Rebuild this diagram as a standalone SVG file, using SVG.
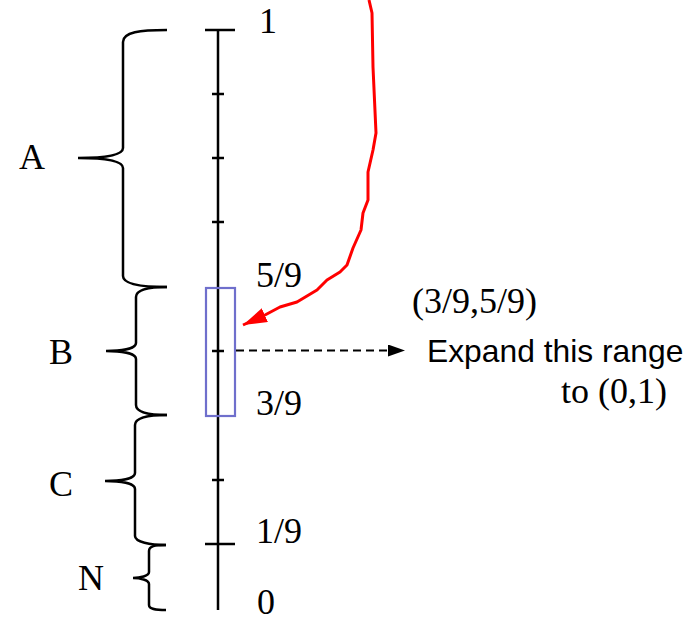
<svg xmlns="http://www.w3.org/2000/svg" width="692" height="621" viewBox="0 0 692 621">
<defs>
<style>
.ser{font-family:"Liberation Serif","Times New Roman",serif;font-size:36px;fill:#000}
.san{font-family:"Liberation Sans",Arial,sans-serif;font-size:31.8px;fill:#000}
.br{fill:none;stroke:#000;stroke-width:2.5}
.tk{stroke:#000;stroke-width:2.5}
</style>
<marker id="redHead" markerUnits="userSpaceOnUse" markerWidth="26" markerHeight="16" refX="24" refY="7.5" orient="auto">
<path d="M0,0 L24,7.5 L0,15 z" fill="#ff0000"/>
</marker>
<marker id="blackHead" markerUnits="userSpaceOnUse" markerWidth="19" markerHeight="14" refX="17" refY="6" orient="auto">
<path d="M0,0 L17,6 L0,12 z" fill="#000"/>
</marker>
</defs>
<rect width="692" height="621" fill="#fff"/>

<g id="axis">
<line class="tk" x1="218" y1="30" x2="218" y2="610"/>
<line class="tk" x1="205" y1="30" x2="235" y2="30"/>
<line class="tk" x1="212" y1="94" x2="224" y2="94"/>
<line class="tk" x1="212" y1="158" x2="224" y2="158"/>
<line class="tk" x1="212" y1="222" x2="224" y2="222"/>
<line class="tk" x1="212" y1="351" x2="224" y2="351"/>
<line class="tk" x1="212" y1="480" x2="224" y2="480"/>
<line class="tk" x1="205" y1="544" x2="235" y2="544"/>
<text class="ser" x="259" y="33">1</text>
<text class="ser" x="256" y="287">5/9</text>
<text class="ser" x="256" y="415">3/9</text>
<text class="ser" x="256" y="543">1/9</text>
<text class="ser" x="257" y="614">0</text>
</g>

<g id="range">
<rect x="206" y="288" width="29" height="128" fill="none" stroke="#6f6fcc" stroke-width="2.2"/>
</g>

<g id="braceA">
<path class="br" d="M167,30 C140,30 123,32 123,42 L123,148 C123,156 100,158 78,158 C100,158 123,160 123,168 L123,276 C123,284 140,287 167,287"/>
<text class="ser" x="19" y="169">A</text>
</g>
<g id="braceB">
<path class="br" d="M167,287 C150,287 136,289 136,297 L136,343 C136,349 120,351 106,351 C120,351 136,353 136,359 L136,405 C136,413 150,415 167,415"/>
<text class="ser" x="49" y="364">B</text>
</g>
<g id="braceC">
<path class="br" d="M167,415 C150,415 135,417 135,425 L135,473 C135,479 120,481 105,481 C120,481 135,483 135,489 L135,536 C135,542 150,545 166,545"/>
<text class="ser" x="49" y="496">C</text>
</g>
<g id="braceN">
<path class="br" d="M166,545 C155,545 149,546 149,551 L149,572 C149,576 140,578 133,578 C140,578 149,580 149,584 L149,605 C149,609 155,610 166,610"/>
<text class="ser" x="78" y="590">N</text>
</g>

<g id="note">
<text class="ser" x="412" y="313">(3/9,5/9)</text>
<text class="san" x="427" y="362">Expand this range</text>
<text class="ser" x="561" y="403">to (0,1)</text>
</g>

<g id="connectors">
<path d="M369,0 L372,13 L373,67 L376,133 L373,150 L368,172 L368,200 L363,213 L361,230 L353,248 L347,265 L340,272 L327,280 L317,290 L297,302 L280,307 L265,315 L243,325" fill="none" stroke="#ff0000" stroke-width="3" stroke-linejoin="round" marker-end="url(#redHead)"/>
<path d="M236,350.5 L405,350.5" fill="none" stroke="#000" stroke-width="2" stroke-dasharray="8,5" marker-end="url(#blackHead)"/>
</g>
</svg>
